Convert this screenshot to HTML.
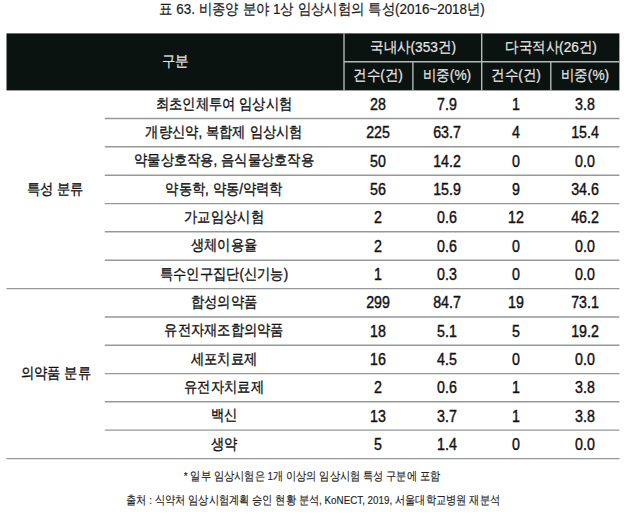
<!DOCTYPE html>
<html lang="ko"><head><meta charset="utf-8"><style>
html,body{margin:0;padding:0;background:#fff}
body{width:624px;height:522px;position:relative;overflow:hidden;font-family:"Liberation Sans",sans-serif}
.t{position:absolute;white-space:nowrap;transform-origin:50% 50%}
</style></head><body>
<svg width="624" height="522" viewBox="0 0 624 522" style="position:absolute;left:0;top:0"><rect x="6.5" y="33.4" width="612.9" height="57.00000000000001" fill="#0b1310"/><line x1="344.0" y1="33.4" x2="344.0" y2="90.4" stroke="#b4b8b6" stroke-width="1.4"/><line x1="412.9" y1="61.8" x2="412.9" y2="90.4" stroke="#b4b8b6" stroke-width="1.4"/><line x1="481.7" y1="33.4" x2="481.7" y2="90.4" stroke="#b4b8b6" stroke-width="1.4"/><line x1="550.8" y1="61.8" x2="550.8" y2="90.4" stroke="#b4b8b6" stroke-width="1.4"/><line x1="344.0" y1="61.8" x2="619.4" y2="61.8" stroke="#b4b8b6" stroke-width="1.4"/><line x1="104.8" y1="118.40" x2="619.4" y2="118.40" stroke="#959998" stroke-width="1.45"/><line x1="104.8" y1="146.70" x2="619.4" y2="146.70" stroke="#959998" stroke-width="1.45"/><line x1="104.8" y1="175.30" x2="619.4" y2="175.30" stroke="#959998" stroke-width="1.45"/><line x1="104.8" y1="203.60" x2="619.4" y2="203.60" stroke="#959998" stroke-width="1.45"/><line x1="104.8" y1="231.80" x2="619.4" y2="231.80" stroke="#959998" stroke-width="1.45"/><line x1="104.8" y1="260.30" x2="619.4" y2="260.30" stroke="#959998" stroke-width="1.45"/><line x1="6.5" y1="288.60" x2="619.4" y2="288.60" stroke="#959998" stroke-width="1.45"/><line x1="104.8" y1="316.90" x2="619.4" y2="316.90" stroke="#959998" stroke-width="1.45"/><line x1="104.8" y1="345.30" x2="619.4" y2="345.30" stroke="#959998" stroke-width="1.45"/><line x1="104.8" y1="373.60" x2="619.4" y2="373.60" stroke="#959998" stroke-width="1.45"/><line x1="104.8" y1="401.80" x2="619.4" y2="401.80" stroke="#959998" stroke-width="1.45"/><line x1="104.8" y1="430.10" x2="619.4" y2="430.10" stroke="#959998" stroke-width="1.45"/><line x1="6.5" y1="458.60" x2="619.4" y2="458.60" stroke="#959998" stroke-width="1.45"/></svg>
<div class="t" style="left:322.00px;top:-0.30px;font-size:15.0px;line-height:18.00px;transform:translateX(-50%) scaleX(0.893);color:#1a1a1a;font-weight:400;-webkit-text-stroke:0.22px #1a1a1a">표 63. 비종양 분야 1상 임상시험의 특성(2016~2018년)</div>
<div class="t" style="left:175.00px;top:51.88px;font-size:15.2px;line-height:18.24px;transform:translateX(-50%) scaleX(0.9);color:#e8e8e8;font-weight:400;-webkit-text-stroke:0.2px #e8e8e8">구분</div>
<div class="t" style="left:412.50px;top:37.68px;font-size:15.2px;line-height:18.24px;transform:translateX(-50%) scaleX(0.9);color:#e8e8e8;font-weight:400;-webkit-text-stroke:0.2px #e8e8e8">국내사(353건)</div>
<div class="t" style="left:550.50px;top:37.68px;font-size:15.2px;line-height:18.24px;transform:translateX(-50%) scaleX(0.9);color:#e8e8e8;font-weight:400;-webkit-text-stroke:0.2px #e8e8e8">다국적사(26건)</div>
<div class="t" style="left:378.45px;top:65.88px;font-size:15.2px;line-height:18.24px;transform:translateX(-50%) scaleX(0.9);color:#e8e8e8;font-weight:400;-webkit-text-stroke:0.2px #e8e8e8">건수(건)</div>
<div class="t" style="left:447.30px;top:65.88px;font-size:15.2px;line-height:18.24px;transform:translateX(-50%) scaleX(0.9);color:#e8e8e8;font-weight:400;-webkit-text-stroke:0.2px #e8e8e8">비중(%)</div>
<div class="t" style="left:516.25px;top:65.88px;font-size:15.2px;line-height:18.24px;transform:translateX(-50%) scaleX(0.9);color:#e8e8e8;font-weight:400;-webkit-text-stroke:0.2px #e8e8e8">건수(건)</div>
<div class="t" style="left:585.10px;top:65.88px;font-size:15.2px;line-height:18.24px;transform:translateX(-50%) scaleX(0.9);color:#e8e8e8;font-weight:400;-webkit-text-stroke:0.2px #e8e8e8">비중(%)</div>
<div class="t" style="left:224.00px;top:94.53px;font-size:15.2px;line-height:18.24px;transform:translateX(-50%) scaleX(0.885);color:#111;font-weight:400;-webkit-text-stroke:0.35px #111">최초인체투여 임상시험</div>
<div class="t" style="left:378.45px;top:95.97px;font-size:15.8px;line-height:18.96px;transform:translateX(-50%) scaleX(0.9);color:#111;font-weight:400;-webkit-text-stroke:0.4px #111">28</div>
<div class="t" style="left:447.30px;top:95.97px;font-size:15.8px;line-height:18.96px;transform:translateX(-50%) scaleX(0.9);color:#111;font-weight:400;-webkit-text-stroke:0.4px #111">7.9</div>
<div class="t" style="left:516.25px;top:95.97px;font-size:15.8px;line-height:18.96px;transform:translateX(-50%) scaleX(0.9);color:#111;font-weight:400;-webkit-text-stroke:0.4px #111">1</div>
<div class="t" style="left:585.10px;top:95.97px;font-size:15.8px;line-height:18.96px;transform:translateX(-50%) scaleX(0.9);color:#111;font-weight:400;-webkit-text-stroke:0.4px #111">3.8</div>
<div class="t" style="left:224.00px;top:122.83px;font-size:15.2px;line-height:18.24px;transform:translateX(-50%) scaleX(0.885);color:#111;font-weight:400;-webkit-text-stroke:0.35px #111">개량신약, 복합제 임상시험</div>
<div class="t" style="left:378.45px;top:124.27px;font-size:15.8px;line-height:18.96px;transform:translateX(-50%) scaleX(0.9);color:#111;font-weight:400;-webkit-text-stroke:0.4px #111">225</div>
<div class="t" style="left:447.30px;top:124.27px;font-size:15.8px;line-height:18.96px;transform:translateX(-50%) scaleX(0.9);color:#111;font-weight:400;-webkit-text-stroke:0.4px #111">63.7</div>
<div class="t" style="left:516.25px;top:124.27px;font-size:15.8px;line-height:18.96px;transform:translateX(-50%) scaleX(0.9);color:#111;font-weight:400;-webkit-text-stroke:0.4px #111">4</div>
<div class="t" style="left:585.10px;top:124.27px;font-size:15.8px;line-height:18.96px;transform:translateX(-50%) scaleX(0.9);color:#111;font-weight:400;-webkit-text-stroke:0.4px #111">15.4</div>
<div class="t" style="left:224.00px;top:151.28px;font-size:15.2px;line-height:18.24px;transform:translateX(-50%) scaleX(0.885);color:#111;font-weight:400;-webkit-text-stroke:0.35px #111">약물상호작용, 음식물상호작용</div>
<div class="t" style="left:378.45px;top:152.72px;font-size:15.8px;line-height:18.96px;transform:translateX(-50%) scaleX(0.9);color:#111;font-weight:400;-webkit-text-stroke:0.4px #111">50</div>
<div class="t" style="left:447.30px;top:152.72px;font-size:15.8px;line-height:18.96px;transform:translateX(-50%) scaleX(0.9);color:#111;font-weight:400;-webkit-text-stroke:0.4px #111">14.2</div>
<div class="t" style="left:516.25px;top:152.72px;font-size:15.8px;line-height:18.96px;transform:translateX(-50%) scaleX(0.9);color:#111;font-weight:400;-webkit-text-stroke:0.4px #111">0</div>
<div class="t" style="left:585.10px;top:152.72px;font-size:15.8px;line-height:18.96px;transform:translateX(-50%) scaleX(0.9);color:#111;font-weight:400;-webkit-text-stroke:0.4px #111">0.0</div>
<div class="t" style="left:224.00px;top:179.73px;font-size:15.2px;line-height:18.24px;transform:translateX(-50%) scaleX(0.885);color:#111;font-weight:400;-webkit-text-stroke:0.35px #111">약동학, 약동/약력학</div>
<div class="t" style="left:378.45px;top:181.17px;font-size:15.8px;line-height:18.96px;transform:translateX(-50%) scaleX(0.9);color:#111;font-weight:400;-webkit-text-stroke:0.4px #111">56</div>
<div class="t" style="left:447.30px;top:181.17px;font-size:15.8px;line-height:18.96px;transform:translateX(-50%) scaleX(0.9);color:#111;font-weight:400;-webkit-text-stroke:0.4px #111">15.9</div>
<div class="t" style="left:516.25px;top:181.17px;font-size:15.8px;line-height:18.96px;transform:translateX(-50%) scaleX(0.9);color:#111;font-weight:400;-webkit-text-stroke:0.4px #111">9</div>
<div class="t" style="left:585.10px;top:181.17px;font-size:15.8px;line-height:18.96px;transform:translateX(-50%) scaleX(0.9);color:#111;font-weight:400;-webkit-text-stroke:0.4px #111">34.6</div>
<div class="t" style="left:224.00px;top:207.98px;font-size:15.2px;line-height:18.24px;transform:translateX(-50%) scaleX(0.885);color:#111;font-weight:400;-webkit-text-stroke:0.35px #111">가교임상시험</div>
<div class="t" style="left:378.45px;top:209.42px;font-size:15.8px;line-height:18.96px;transform:translateX(-50%) scaleX(0.9);color:#111;font-weight:400;-webkit-text-stroke:0.4px #111">2</div>
<div class="t" style="left:447.30px;top:209.42px;font-size:15.8px;line-height:18.96px;transform:translateX(-50%) scaleX(0.9);color:#111;font-weight:400;-webkit-text-stroke:0.4px #111">0.6</div>
<div class="t" style="left:516.25px;top:209.42px;font-size:15.8px;line-height:18.96px;transform:translateX(-50%) scaleX(0.9);color:#111;font-weight:400;-webkit-text-stroke:0.4px #111">12</div>
<div class="t" style="left:585.10px;top:209.42px;font-size:15.8px;line-height:18.96px;transform:translateX(-50%) scaleX(0.9);color:#111;font-weight:400;-webkit-text-stroke:0.4px #111">46.2</div>
<div class="t" style="left:224.00px;top:236.33px;font-size:15.2px;line-height:18.24px;transform:translateX(-50%) scaleX(0.885);color:#111;font-weight:400;-webkit-text-stroke:0.35px #111">생체이용율</div>
<div class="t" style="left:378.45px;top:237.77px;font-size:15.8px;line-height:18.96px;transform:translateX(-50%) scaleX(0.9);color:#111;font-weight:400;-webkit-text-stroke:0.4px #111">2</div>
<div class="t" style="left:447.30px;top:237.77px;font-size:15.8px;line-height:18.96px;transform:translateX(-50%) scaleX(0.9);color:#111;font-weight:400;-webkit-text-stroke:0.4px #111">0.6</div>
<div class="t" style="left:516.25px;top:237.77px;font-size:15.8px;line-height:18.96px;transform:translateX(-50%) scaleX(0.9);color:#111;font-weight:400;-webkit-text-stroke:0.4px #111">0</div>
<div class="t" style="left:585.10px;top:237.77px;font-size:15.8px;line-height:18.96px;transform:translateX(-50%) scaleX(0.9);color:#111;font-weight:400;-webkit-text-stroke:0.4px #111">0.0</div>
<div class="t" style="left:224.00px;top:264.73px;font-size:15.2px;line-height:18.24px;transform:translateX(-50%) scaleX(0.885);color:#111;font-weight:400;-webkit-text-stroke:0.35px #111">특수인구집단(신기능)</div>
<div class="t" style="left:378.45px;top:266.17px;font-size:15.8px;line-height:18.96px;transform:translateX(-50%) scaleX(0.9);color:#111;font-weight:400;-webkit-text-stroke:0.4px #111">1</div>
<div class="t" style="left:447.30px;top:266.17px;font-size:15.8px;line-height:18.96px;transform:translateX(-50%) scaleX(0.9);color:#111;font-weight:400;-webkit-text-stroke:0.4px #111">0.3</div>
<div class="t" style="left:516.25px;top:266.17px;font-size:15.8px;line-height:18.96px;transform:translateX(-50%) scaleX(0.9);color:#111;font-weight:400;-webkit-text-stroke:0.4px #111">0</div>
<div class="t" style="left:585.10px;top:266.17px;font-size:15.8px;line-height:18.96px;transform:translateX(-50%) scaleX(0.9);color:#111;font-weight:400;-webkit-text-stroke:0.4px #111">0.0</div>
<div class="t" style="left:224.00px;top:293.03px;font-size:15.2px;line-height:18.24px;transform:translateX(-50%) scaleX(0.885);color:#111;font-weight:400;-webkit-text-stroke:0.35px #111">합성의약품</div>
<div class="t" style="left:378.45px;top:294.47px;font-size:15.8px;line-height:18.96px;transform:translateX(-50%) scaleX(0.9);color:#111;font-weight:400;-webkit-text-stroke:0.4px #111">299</div>
<div class="t" style="left:447.30px;top:294.47px;font-size:15.8px;line-height:18.96px;transform:translateX(-50%) scaleX(0.9);color:#111;font-weight:400;-webkit-text-stroke:0.4px #111">84.7</div>
<div class="t" style="left:516.25px;top:294.47px;font-size:15.8px;line-height:18.96px;transform:translateX(-50%) scaleX(0.9);color:#111;font-weight:400;-webkit-text-stroke:0.4px #111">19</div>
<div class="t" style="left:585.10px;top:294.47px;font-size:15.8px;line-height:18.96px;transform:translateX(-50%) scaleX(0.9);color:#111;font-weight:400;-webkit-text-stroke:0.4px #111">73.1</div>
<div class="t" style="left:224.00px;top:321.38px;font-size:15.2px;line-height:18.24px;transform:translateX(-50%) scaleX(0.885);color:#111;font-weight:400;-webkit-text-stroke:0.35px #111">유전자재조합의약품</div>
<div class="t" style="left:378.45px;top:322.82px;font-size:15.8px;line-height:18.96px;transform:translateX(-50%) scaleX(0.9);color:#111;font-weight:400;-webkit-text-stroke:0.4px #111">18</div>
<div class="t" style="left:447.30px;top:322.82px;font-size:15.8px;line-height:18.96px;transform:translateX(-50%) scaleX(0.9);color:#111;font-weight:400;-webkit-text-stroke:0.4px #111">5.1</div>
<div class="t" style="left:516.25px;top:322.82px;font-size:15.8px;line-height:18.96px;transform:translateX(-50%) scaleX(0.9);color:#111;font-weight:400;-webkit-text-stroke:0.4px #111">5</div>
<div class="t" style="left:585.10px;top:322.82px;font-size:15.8px;line-height:18.96px;transform:translateX(-50%) scaleX(0.9);color:#111;font-weight:400;-webkit-text-stroke:0.4px #111">19.2</div>
<div class="t" style="left:224.00px;top:349.73px;font-size:15.2px;line-height:18.24px;transform:translateX(-50%) scaleX(0.885);color:#111;font-weight:400;-webkit-text-stroke:0.35px #111">세포치료제</div>
<div class="t" style="left:378.45px;top:351.17px;font-size:15.8px;line-height:18.96px;transform:translateX(-50%) scaleX(0.9);color:#111;font-weight:400;-webkit-text-stroke:0.4px #111">16</div>
<div class="t" style="left:447.30px;top:351.17px;font-size:15.8px;line-height:18.96px;transform:translateX(-50%) scaleX(0.9);color:#111;font-weight:400;-webkit-text-stroke:0.4px #111">4.5</div>
<div class="t" style="left:516.25px;top:351.17px;font-size:15.8px;line-height:18.96px;transform:translateX(-50%) scaleX(0.9);color:#111;font-weight:400;-webkit-text-stroke:0.4px #111">0</div>
<div class="t" style="left:585.10px;top:351.17px;font-size:15.8px;line-height:18.96px;transform:translateX(-50%) scaleX(0.9);color:#111;font-weight:400;-webkit-text-stroke:0.4px #111">0.0</div>
<div class="t" style="left:224.00px;top:377.98px;font-size:15.2px;line-height:18.24px;transform:translateX(-50%) scaleX(0.885);color:#111;font-weight:400;-webkit-text-stroke:0.35px #111">유전자치료제</div>
<div class="t" style="left:378.45px;top:379.42px;font-size:15.8px;line-height:18.96px;transform:translateX(-50%) scaleX(0.9);color:#111;font-weight:400;-webkit-text-stroke:0.4px #111">2</div>
<div class="t" style="left:447.30px;top:379.42px;font-size:15.8px;line-height:18.96px;transform:translateX(-50%) scaleX(0.9);color:#111;font-weight:400;-webkit-text-stroke:0.4px #111">0.6</div>
<div class="t" style="left:516.25px;top:379.42px;font-size:15.8px;line-height:18.96px;transform:translateX(-50%) scaleX(0.9);color:#111;font-weight:400;-webkit-text-stroke:0.4px #111">1</div>
<div class="t" style="left:585.10px;top:379.42px;font-size:15.8px;line-height:18.96px;transform:translateX(-50%) scaleX(0.9);color:#111;font-weight:400;-webkit-text-stroke:0.4px #111">3.8</div>
<div class="t" style="left:224.00px;top:406.23px;font-size:15.2px;line-height:18.24px;transform:translateX(-50%) scaleX(0.885);color:#111;font-weight:400;-webkit-text-stroke:0.35px #111">백신</div>
<div class="t" style="left:378.45px;top:407.67px;font-size:15.8px;line-height:18.96px;transform:translateX(-50%) scaleX(0.9);color:#111;font-weight:400;-webkit-text-stroke:0.4px #111">13</div>
<div class="t" style="left:447.30px;top:407.67px;font-size:15.8px;line-height:18.96px;transform:translateX(-50%) scaleX(0.9);color:#111;font-weight:400;-webkit-text-stroke:0.4px #111">3.7</div>
<div class="t" style="left:516.25px;top:407.67px;font-size:15.8px;line-height:18.96px;transform:translateX(-50%) scaleX(0.9);color:#111;font-weight:400;-webkit-text-stroke:0.4px #111">1</div>
<div class="t" style="left:585.10px;top:407.67px;font-size:15.8px;line-height:18.96px;transform:translateX(-50%) scaleX(0.9);color:#111;font-weight:400;-webkit-text-stroke:0.4px #111">3.8</div>
<div class="t" style="left:224.00px;top:434.63px;font-size:15.2px;line-height:18.24px;transform:translateX(-50%) scaleX(0.885);color:#111;font-weight:400;-webkit-text-stroke:0.35px #111">생약</div>
<div class="t" style="left:378.45px;top:436.07px;font-size:15.8px;line-height:18.96px;transform:translateX(-50%) scaleX(0.9);color:#111;font-weight:400;-webkit-text-stroke:0.4px #111">5</div>
<div class="t" style="left:447.30px;top:436.07px;font-size:15.8px;line-height:18.96px;transform:translateX(-50%) scaleX(0.9);color:#111;font-weight:400;-webkit-text-stroke:0.4px #111">1.4</div>
<div class="t" style="left:516.25px;top:436.07px;font-size:15.8px;line-height:18.96px;transform:translateX(-50%) scaleX(0.9);color:#111;font-weight:400;-webkit-text-stroke:0.4px #111">0</div>
<div class="t" style="left:585.10px;top:436.07px;font-size:15.8px;line-height:18.96px;transform:translateX(-50%) scaleX(0.9);color:#111;font-weight:400;-webkit-text-stroke:0.4px #111">0.0</div>
<div class="t" style="left:55.00px;top:180.28px;font-size:15.2px;line-height:18.24px;transform:translateX(-50%) scaleX(0.885);color:#111;font-weight:400;-webkit-text-stroke:0.35px #111">특성 분류</div>
<div class="t" style="left:55.50px;top:364.28px;font-size:15.2px;line-height:18.24px;transform:translateX(-50%) scaleX(0.885);color:#111;font-weight:400;-webkit-text-stroke:0.35px #111">의약품 분류</div>
<div class="t" style="left:312.00px;top:470.10px;font-size:11.5px;line-height:13.80px;transform:translateX(-50%) scaleX(0.853);color:#222;font-weight:400;-webkit-text-stroke:0.15px #222">* 일부 임상시험은 1개 이상의 임상시험 특성 구분에 포함</div>
<div class="t" style="left:313.40px;top:494.10px;font-size:11.5px;line-height:13.80px;transform:translateX(-50%) scaleX(0.853);color:#222;font-weight:400;-webkit-text-stroke:0.15px #222">출처 : 식약처 임상시험계획 승인 현황 분석, KoNECT, 2019, 서울대학교병원 재분석</div>
</body></html>
